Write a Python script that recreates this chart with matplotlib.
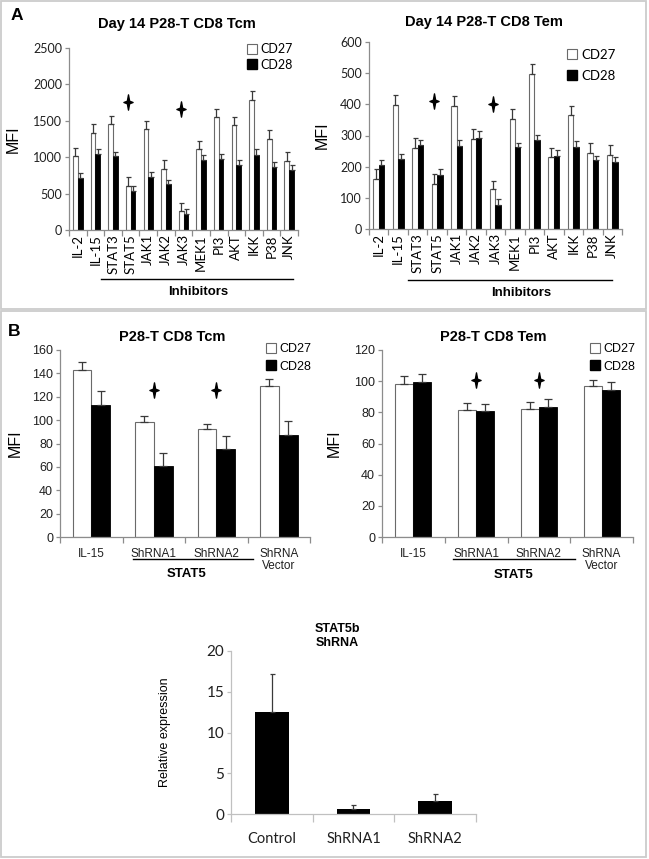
import matplotlib
matplotlib.use('Agg')
import matplotlib.pyplot as plt
import numpy as np
from matplotlib.lines import Line2D
from matplotlib.patches import Rectangle
from matplotlib.path import Path
import matplotlib.transforms as mtransforms

# ---- data ----
inhib_labels = ['IL-2', 'IL-15', 'STAT3', 'STAT5', 'JAK1', 'JAK2', 'JAK3',
                'MEK1', 'PI3', 'AKT', 'IKK', 'P38', 'JNK']

tcm_cd27 = [1010, 1330, 1450, 610, 1385, 840, 265, 1115, 1550, 1440, 1790, 1250, 950]
tcm_cd27_err = [115, 122, 112, 118, 112, 118, 112, 110, 115, 118, 114, 122, 118]
tcm_cd28 = [718, 1045, 1010, 532, 723, 627, 218, 968, 977, 895, 1036, 859, 818]
tcm_cd28_err = [68, 69, 64, 77, 72, 64, 64, 64, 68, 73, 78, 73, 68]
tcm_star_idx = [3, 6]
tcm_star_y = [1764, 1659]

tem_cd27 = [159, 399, 261, 144, 395, 290, 128, 353, 498, 230, 366, 245, 236]
tem_cd27_err = [32, 32, 32, 32, 32, 31, 27, 32, 33, 31, 29, 32, 32]
tem_cd28 = [204, 223, 269, 173, 265, 293, 78, 263, 287, 233, 262, 221, 215]
tem_cd28_err = [16, 19, 18, 18, 19, 20, 18, 14, 15, 19, 20, 13, 17]
tem_star_idx = [3, 6]
tem_star_y = [410, 400]

sh_labels = ['IL-15', 'ShRNA1', 'ShRNA2', 'ShRNA\nVector']
b_tcm_cd27 = [143, 98.5, 92.8, 129]
b_tcm_cd27_err = [6.8, 4.9, 4.2, 6.0]
b_tcm_cd28 = [113, 60.6, 75.7, 87.7]
b_tcm_cd28_err = [11.5, 11.4, 10.9, 11.3]
b_tcm_star_idx = [1, 2]
b_tcm_star_y = [126, 126]

b_tem_cd27 = [98.3, 81.7, 82.2, 96.6]
b_tem_cd27_err = [4.7, 4.5, 4.4, 4.4]
b_tem_cd28 = [99.4, 80.9, 83.2, 94.6]
b_tem_cd28_err = [4.9, 4.7, 5.2, 5.0]
b_tem_star_idx = [1, 2]
b_tem_star_y = [100.5, 100.5]

kd_labels = ['Control', 'ShRNA1', 'ShRNA2']
kd_values = [12.5, 0.6, 1.6]
kd_err = [4.7, 0.55, 0.85]

# ---- style ----
W, H = 649, 859
CAL = ['Lato', 'DejaVu Sans']
ARI = ['Liberation Sans', 'DejaVu Sans']
AXC = '#8c8c8c'
EDGE = '#6a6a6a'
ERRC = '#3a3a3a'

star_path = Path([(0, 1), (0.15, 0.17), (0.6, 0), (0.15, -0.17), (0, -1),
                  (-0.15, -0.17), (-0.6, 0), (-0.15, 0.17), (0, 1)],
                 [Path.MOVETO] + [Path.LINETO] * 7 + [Path.CLOSEPOLY])

fig = plt.figure(figsize=(W / 100, H / 100), dpi=100)


def rect(x0, yt, x1, yb):
    return [x0 / W, 1 - yb / H, (x1 - x0) / W, (yb - yt) / H]


def style_axes(ax, n, ymax, ystep, font, tsize, minor_len=4):
    for s in ['top', 'right']:
        ax.spines[s].set_visible(False)
    for s in ['left', 'bottom']:
        ax.spines[s].set_color(AXC)
        ax.spines[s].set_linewidth(0.9)
    ax.set_xlim(-0.5, n - 0.5)
    ax.set_ylim(0, ymax)
    ax.set_yticks(np.arange(0, ymax + ystep / 2, ystep))
    ax.set_xticks(np.arange(-0.5, n, 1.0), minor=True)
    ax.tick_params(axis='y', direction='out', length=3, color=AXC, width=0.9, pad=2)
    ax.tick_params(axis='x', which='major', length=0)
    ax.tick_params(axis='x', which='minor', direction='out', length=minor_len,
                   color=AXC, width=0.9)
    for lab in ax.get_yticklabels():
        lab.set_family(font)
        lab.set_fontsize(tsize)
        lab.set_color('#202020')


def grouped(ax, labels, c27, e27, c28, e28, width, cap):
    x = np.arange(len(labels))
    n = len(labels)
    ax.bar(x - width / 2, c27, width, color='white', edgecolor=EDGE, linewidth=0.8,
           yerr=[np.zeros(n), e27], error_kw=dict(ecolor=ERRC, elinewidth=0.9,
                                                 capsize=cap, capthick=0.9))
    ax.bar(x + width / 2, c28, width, color='black', edgecolor='black', linewidth=0.6,
           yerr=[np.zeros(n), e28], error_kw=dict(ecolor=ERRC, elinewidth=0.9,
                                                 capsize=cap, capthick=0.9))
    return x


def legend(ax, font, size, anchor, spacing):
    h = [Line2D([], [], ls='none', marker='s', markersize=6.5, markerfacecolor='white',
                markeredgecolor=EDGE, markeredgewidth=0.8),
         Line2D([], [], ls='none', marker='s', markersize=6.5, markerfacecolor='black',
                markeredgecolor='black')]
    ax.legend(h, ['CD27', 'CD28'], loc='upper left', bbox_to_anchor=anchor,
              bbox_transform=fig.transFigure, frameon=False, borderpad=0,
              borderaxespad=0, handlelength=0.8, handletextpad=0.3,
              labelspacing=spacing, prop=dict(family=font, size=size))


def group_line(ax, x0, x1, y, label, tx, ty, size):
    tr = mtransforms.blended_transform_factory(ax.transData, ax.transAxes)
    ax.plot([x0, x1], [y, y], color='black', lw=1.0, transform=tr, clip_on=False)
    ax.text(tx, ty, label, transform=tr, ha='center', va='center',
            fontsize=size, fontweight='bold', family=ARI)


# ---- panel A, Tcm ----
ax1 = fig.add_axes(rect(69, 48, 298, 230))
w = 0.27
x = grouped(ax1, inhib_labels, tcm_cd27, tcm_cd27_err, tcm_cd28, tcm_cd28_err, w, 1.8)
ax1.plot(np.array(tcm_star_idx) - w / 2, tcm_star_y, ls='none', marker=star_path,
         markersize=11, color='black')
style_axes(ax1, len(inhib_labels), 2500, 500, CAL, 9)
ax1.set_xticks(x)
ax1.set_xticklabels(inhib_labels, rotation=90, family=CAL, fontsize=9.5, va='top')
ax1.tick_params(axis='x', which='major', pad=3)
ax1.set_ylabel('MFI', family=ARI, fontsize=11.5)
ax1.yaxis.set_label_coords(-0.21, 0.5)
ax1.text(0.47, 1.13, 'Day 14 P28-T CD8 Tcm', transform=ax1.transAxes, ha='center',
         va='center', fontsize=10.5, fontweight='bold', family=ARI)
legend(ax1, CAL, 9, (247 / W, 1 - 43 / H), 0.3)
group_line(ax1, 1.3, 12.2, -0.269, 'Inhibitors', 6.82, -0.34, 9.5)

# ---- panel A, Tem ----
ax2 = fig.add_axes(rect(369, 42, 622, 229))
w = 0.28
x = grouped(ax2, inhib_labels, tem_cd27, tem_cd27_err, tem_cd28, tem_cd28_err, w, 1.8)
ax2.plot(np.array(tem_star_idx) - w / 2, tem_star_y, ls='none', marker=star_path,
         markersize=11, color='black')
style_axes(ax2, len(inhib_labels), 600, 100, CAL, 9)
ax2.set_xticks(x)
ax2.set_xticklabels(inhib_labels, rotation=90, family=CAL, fontsize=9.5, va='top')
ax2.tick_params(axis='x', which='major', pad=3)
ax2.set_ylabel('MFI', family=ARI, fontsize=11.5)
ax2.yaxis.set_label_coords(-0.154, 0.5)
ax2.text(0.455, 1.105, 'Day 14 P28-T CD8 Tem', transform=ax2.transAxes, ha='center',
         va='center', fontsize=10.5, fontweight='bold', family=ARI)
legend(ax2, CAL, 9.5, (567 / W, 1 - 49 / H), 0.65)
group_line(ax2, 1.5, 11.99, -0.273, 'Inhibitors', 7.31, -0.342, 9.5)

# ---- panel B, Tcm ----
ax3 = fig.add_axes(rect(60, 350, 310, 537))
w = 0.30
x = grouped(ax3, sh_labels, b_tcm_cd27, b_tcm_cd27_err, b_tcm_cd28, b_tcm_cd28_err, w, 2.6)
ax3.plot(b_tcm_star_idx, b_tcm_star_y, ls='none', marker=star_path,
         markersize=11, color='black')
style_axes(ax3, len(sh_labels), 160, 20, ARI, 9)
ax3.set_xticks(x)
ax3.set_xticklabels(sh_labels, family=ARI, fontsize=8.5, va='top', color='#202020',
                    linespacing=1.0)
ax3.tick_params(axis='x', which='major', pad=8)
ax3.set_ylabel('MFI', family=ARI, fontsize=11.5)
ax3.yaxis.set_label_coords(-0.148, 0.5)
ax3.text(0.45, 1.07, 'P28-T CD8 Tcm', transform=ax3.transAxes, ha='center',
         va='center', fontsize=10.5, fontweight='bold', family=ARI)
legend(ax3, ARI, 9, (266 / W, 1 - 343 / H), 0.45)
group_line(ax3, 0.668, 2.59, -0.118, 'STAT5', 1.53, -0.198, 9.5)

# ---- panel B, Tem ----
ax4 = fig.add_axes(rect(382, 350, 633, 537))
w = 0.285
x = grouped(ax4, sh_labels, b_tem_cd27, b_tem_cd27_err, b_tem_cd28, b_tem_cd28_err, w, 2.6)
ax4.plot(b_tem_star_idx, b_tem_star_y, ls='none', marker=star_path,
         markersize=11, color='black')
style_axes(ax4, len(sh_labels), 120, 20, ARI, 9)
ax4.set_xticks(x)
ax4.set_xticklabels(sh_labels, family=ARI, fontsize=8.5, va='top', color='#202020',
                    linespacing=1.0)
ax4.tick_params(axis='x', which='major', pad=8)
ax4.set_ylabel('MFI', family=ARI, fontsize=11.5)
ax4.yaxis.set_label_coords(-0.159, 0.5)
ax4.text(0.442, 1.07, 'P28-T CD8 Tem', transform=ax4.transAxes, ha='center',
         va='center', fontsize=10.5, fontweight='bold', family=ARI)
legend(ax4, ARI, 9, (590 / W, 1 - 343 / H), 0.45)
group_line(ax4, 0.63, 2.58, -0.118, 'STAT5', 1.59, -0.203, 9.5)

# ---- STAT5b knockdown ----
ax5 = fig.add_axes(rect(231, 651, 476, 814))
xk = np.arange(len(kd_labels))
ax5.bar(xk, kd_values, 0.41, color='black',
        yerr=[np.zeros(len(xk)), kd_err],
        error_kw=dict(ecolor=ERRC, elinewidth=0.9, capsize=1.8, capthick=0.9))
style_axes(ax5, len(kd_labels), 20, 5, CAL, 11, minor_len=6)
ax5.spines['left'].set_color('#c0c0c0')
ax5.spines['bottom'].set_color('#c0c0c0')
ax5.tick_params(axis='both', which='both', color='#c0c0c0')
ax5.set_xticks(xk)
ax5.set_xticklabels(kd_labels, family=CAL, fontsize=10.5, color='#202020')
ax5.tick_params(axis='x', which='major', pad=13)
ax5.set_ylabel('Relative expression', family=ARI, fontsize=9)
ax5.yaxis.set_label_coords(-0.244, 0.5)
ax5.text(0.434, 1.092, 'STAT5b\nShRNA', transform=ax5.transAxes, ha='center',
         va='center', fontsize=9, fontweight='bold', family=ARI, linespacing=1.3)

# ---- panel letters and frames ----
fig.text(17 / W, 1 - 15 / H, 'A', fontsize=12.5, fontweight='bold', family=ARI,
         ha='center', va='center')
fig.text(14 / W, 1 - 331 / H, 'B', fontsize=12.5, fontweight='bold', family=ARI,
         ha='center', va='center')
fig.add_artist(Rectangle((1 / W, 1 - 309 / H), 645 / W, 308 / H, transform=fig.transFigure,
                         fill=False, edgecolor='#cccccc', lw=1.3))
fig.add_artist(Rectangle((1 / W, 1 - 857 / H), 645 / W, 546 / H, transform=fig.transFigure,
                         fill=False, edgecolor='#cccccc', lw=1.3))

fig.savefig('out.png', dpi=100)
